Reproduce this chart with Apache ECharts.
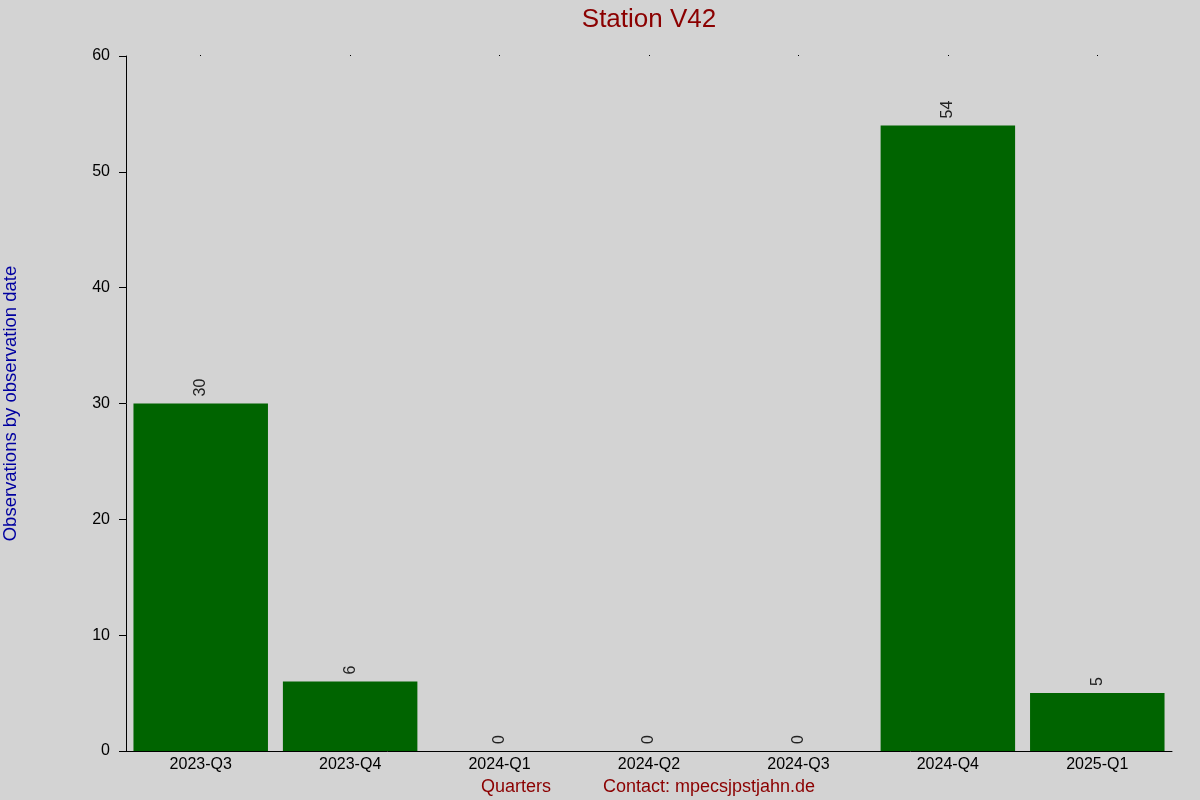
<!DOCTYPE html>
<html>
<head>
<meta charset="utf-8">
<script src="https://cdn.jsdelivr.net/npm/echarts@6/dist/echarts.min.js"></script>
<style>
  html, body { margin: 0; padding: 0; background: #d3d3d3; }
  #main { width: 1200px; height: 800px; }
</style>
</head>
<body>
<div id="main"></div>
<script>
var quarters = ['2023-Q3', '2023-Q4', '2024-Q1', '2024-Q2', '2024-Q3', '2024-Q4', '2025-Q1'];
var counts = [30, 6, 0, 0, 0, 54, 5];
var yTicks = [0, 10, 20, 30, 40, 50, 60];

var chart = echarts.init(document.getElementById('main'));
var font = 'Liberation Sans, Arial, sans-serif';

chart.setOption({
  backgroundColor: '#d3d3d3',
  animation: false,
  title: {
    text: 'Station V42',
    left: 644,
    top: 2,
    textAlign: 'center',
    textStyle: { color: '#8b0000', fontSize: 26, fontWeight: 'normal', fontFamily: font }
  },
  grid: { left: 126, right: 28, top: 56, bottom: 49, containLabel: false, outerBoundsMode: 'none' },
  xAxis: [{
    type: 'category',
    data: quarters,
    axisLine: { lineStyle: { color: '#000', width: 1 } },
    axisTick: { show: false },
    axisLabel: { color: '#000', fontSize: 16, fontFamily: font, margin: 6 }
  }, {
    // little dots along the top edge
    type: 'category',
    data: quarters,
    position: 'top',
    axisLine: { show: false },
    axisTick: { show: true, alignWithLabel: true, length: 1, lineStyle: { color: '#000' } },
    axisLabel: { show: false }
  }],
  yAxis: {
    type: 'value',
    min: yTicks[0],
    max: yTicks[yTicks.length - 1],
    interval: 10,
    name: 'Observations by observation date',
    nameLocation: 'middle',
    nameRotate: 90,
    nameGap: 106,
    nameTextStyle: { color: '#0000a0', fontSize: 18.5, fontFamily: font },
    axisLine: { show: true, lineStyle: { color: '#000', width: 1 } },
    axisTick: { show: true, length: 7, lineStyle: { color: '#000' } },
    axisLabel: { color: '#000', fontSize: 16, fontFamily: font, margin: 16 },
    splitLine: { show: false }
  },
  series: [{
    type: 'bar',
    data: counts,
    barWidth: '90%',
    itemStyle: { color: '#006400' },
    label: {
      show: true,
      position: 'top',
      rotate: 90,
      distance: 7,
      align: 'left',
      verticalAlign: 'middle',
      color: '#222',
      fontSize: 16,
      fontFamily: font
    }
  }],
  graphic: [{
    type: 'text',
    left: 481,
    top: 778,
    style: { text: 'Quarters', fill: '#8b0000', fontSize: 18, fontFamily: font }
  }, {
    type: 'text',
    left: 603,
    top: 778,
    style: { text: 'Contact: mpecsjpstjahn.de', fill: '#8b0000', fontSize: 18, fontFamily: font }
  }]
});
</script>
</body>
</html>
